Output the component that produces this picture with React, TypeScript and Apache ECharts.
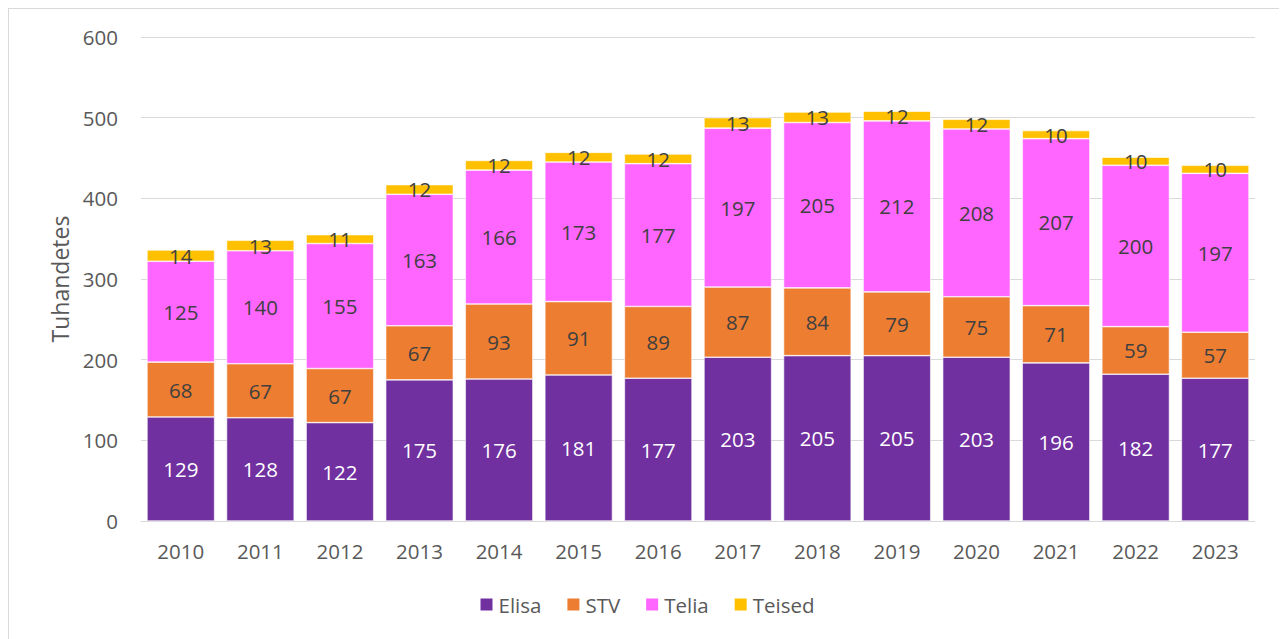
import React, { useEffect, useRef } from "react";
import * as echarts from "echarts";

const years = ["2010","2011","2012","2013","2014","2015","2016","2017","2018","2019","2020","2021","2022","2023"];
const elisa = [129,128,122,175,176,181,177,203,205,205,203,196,182,177];
const stv = [68,67,67,67,93,91,89,87,84,79,75,71,59,57];
const telia = [125,140,155,163,166,173,177,197,205,212,208,207,200,197];
const teised = [14,13,11,12,12,12,12,13,13,12,12,10,10,10];

const FONT = "'Open Sans', 'Noto Sans', sans-serif";

export default function App() {
  const ref = useRef<HTMLDivElement>(null);
  useEffect(() => {
    if (!ref.current) return;
    const chart = echarts.init(ref.current, null, { renderer: "svg" });
    const mk = (name: string, data: number[], color: string, labelColor: string) => ({
      name,
      type: "bar",
      stack: "total",
      data,
      barCategoryGap: "15%",
      itemStyle: { color, borderColor: "#ffffff", borderWidth: 0.6 },
      label: {
        show: true,
        position: "inside",
        color: labelColor,
        fontSize: 20.5,
        fontFamily: FONT,
      },
    });
    chart.setOption({
      animation: false,
      grid: { left: 132, right: 29, top: 28, bottom: 128 },
      legend: {
        bottom: 29,
        left: "center",
        icon: "rect",
        itemWidth: 14,
        itemHeight: 14,
        itemGap: 24,
        textStyle: { color: "#595959", fontSize: 20.5, fontFamily: FONT },
        data: ["Elisa", "STV", "Telia", "Teised"],
      },
      xAxis: {
        type: "category",
        data: years,
        axisLine: { lineStyle: { color: "#d9d9d9", width: 1 } },
        axisTick: { show: false },
        axisLabel: { color: "#595959", fontSize: 20.5, fontFamily: FONT, margin: 19 },
      },
      yAxis: {
        type: "value",
        min: 0,
        max: 600,
        interval: 100,
        name: "Tuhandetes",
        nameLocation: "middle",
        nameGap: 70,
        nameTextStyle: { color: "#595959", fontSize: 23, fontFamily: FONT },
        axisLine: { show: false },
        axisTick: { show: false },
        axisLabel: { color: "#595959", fontSize: 20.5, fontFamily: FONT, margin: 23 },
        splitLine: { lineStyle: { color: "#d9d9d9", width: 1 } },
      },
      series: [
        mk("Elisa", elisa, "#7030A0", "#ffffff"),
        mk("STV", stv, "#ED7D31", "#404040"),
        mk("Telia", telia, "#FF66FF", "#404040"),
        mk("Teised", teised, "#FFC000", "#404040"),
      ],
    });
    return () => chart.dispose();
  }, []);
  return (
    <div style={{ width: 1275, height: 640, border: "1px solid #d9d9d9", background: "#fff" }}>
      <div ref={ref} style={{ width: 1275, height: 640 }} />
    </div>
  );
}
